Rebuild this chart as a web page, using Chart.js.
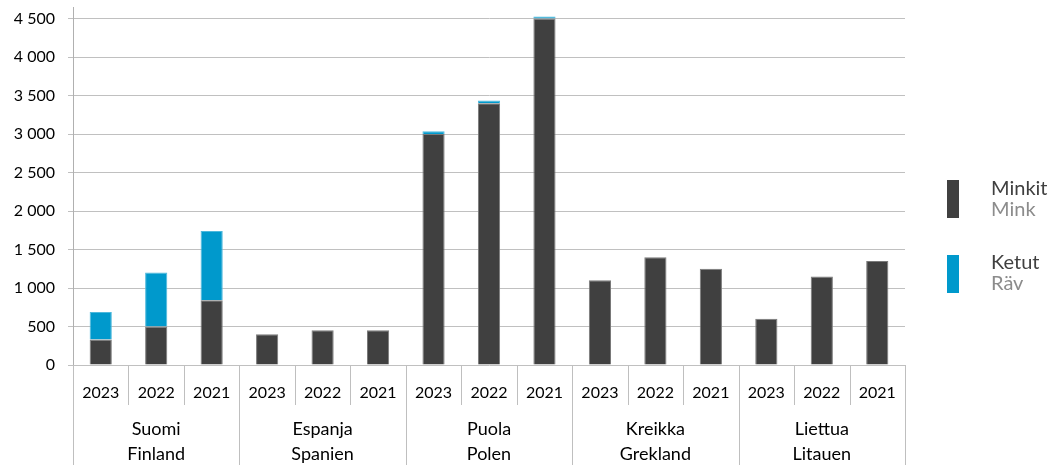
<!DOCTYPE html>
<html>
<head>
<meta charset="utf-8">
<script src="https://cdn.jsdelivr.net/npm/chart.js@4/dist/chart.umd.min.js"></script>
<style>
  body { margin: 0; background: #fff; }
  #wrap { position: relative; width: 1054px; height: 465px; }
  .sw { position: absolute; left: 947px; width: 12px; height: 38px; }
  .lg { position: absolute; left: 991px; font-family: Lato, sans-serif; font-size: 20px; line-height: 21px; }
  .lg .a { color: #404040; }
  .lg .b { color: #8c8c8c; }
</style>
</head>
<body>
<div id="wrap">
  <canvas id="chart" width="1054" height="465"></canvas>
  <div class="sw" style="top:180px; background:#404040"></div>
  <div class="lg" style="top:177px"><div class="a">Minkit</div><div class="b">Mink</div></div>
  <div class="sw" style="top:255px; background:#0099cc"></div>
  <div class="lg" style="top:251px"><div class="a">Ketut</div><div class="b">Räv</div></div>
</div>
<script>
// data
const countries = [['Suomi', 'Finland'], ['Espanja', 'Spanien'], ['Puola', 'Polen'], ['Kreikka', 'Grekland'], ['Liettua', 'Litauen']];
const years = ['2023', '2022', '2021'];
const mink = [330, 500, 840, 400, 450, 450, 3000, 3400, 4500, 1100, 1400, 1250, 600, 1150, 1350];
const fox = [360, 700, 900, 0, 0, 0, 35, 35, 25, 0, 0, 0, 0, 0, 0];
const yTicks = [0, 500, 1000, 1500, 2000, 2500, 3000, 3500, 4000, 4500];

const labels = [];
countries.forEach(() => years.forEach((y) => labels.push(y)));

const fmt = (v) => String(v).replace(/\B(?=(\d{3})+(?!\d))/g, ' ');

// separator lines of the two-level category axis
const separators = {
    id: 'separators',
    afterDraw(chart) {
        const { ctx, chartArea, scales } = chart;
        const x = scales.x;
        ctx.save();
        ctx.strokeStyle = '#bfbfbf';
        ctx.lineWidth = 1;
        for (let i = 0; i <= labels.length; i++) {
            let px;
            if (i === 0) px = chartArea.left;
            else if (i === labels.length) px = chartArea.right;
            else px = (x.getPixelForValue(i - 1) + x.getPixelForValue(i)) / 2;
            px = Math.round(px) + 0.5;
            const bottom = i % years.length === 0 ? chart.height : x.bottom;
            ctx.beginPath();
            ctx.moveTo(px, chartArea.bottom);
            ctx.lineTo(px, bottom);
            ctx.stroke();
        }
        ctx.restore();
    },
};

new Chart(document.getElementById('chart'), {
    type: 'bar',
    data: {
        labels: labels,
        datasets: [
            {
                label: 'Minkit',
                data: mink,
                backgroundColor: '#404040',
                borderColor: '#7a7a7a',
                borderWidth: 1,
                borderSkipped: 'bottom',
            },
            {
                label: 'Ketut',
                data: fox,
                backgroundColor: '#0099cc',
                borderColor: '#4db8dc',
                borderWidth: 1,
                borderSkipped: 'bottom',
            },
        ],
    },
    options: {
        responsive: false,
        animation: false,
        devicePixelRatio: 1,
        layout: { padding: { top: 7, right: 149, left: 0, bottom: 0 } },
        datasets: { bar: { categoryPercentage: 1, barPercentage: 0.4 } },
        plugins: { legend: { display: false }, tooltip: { enabled: false } },
        scales: {
            y: {
                stacked: true,
                min: 0,
                max: 4650,
                afterBuildTicks: (s) => { s.ticks = yTicks.map((v) => ({ value: v })); },
                ticks: {
                    padding: 13,
                    color: '#000',
                    font: { family: 'Lato', size: 16 },
                    callback: (v) => fmt(v),
                },
                afterFit: (s) => { s.width = 73; s.paddingTop = 0; s.paddingBottom = 0; },
                grid: { color: '#c0c0c0', tickLength: 5 },
                border: { color: '#b0b0b0' },
            },
            x: {
                stacked: true,
                weight: 0,
                grid: { display: false, drawTicks: false },
                border: { display: false },
                ticks: {
                    padding: 18,
                    maxRotation: 0,
                    autoSkip: false,
                    color: '#000',
                    font: { family: 'Lato', size: 16 },
                },
                afterFit: (s) => { s.height = 40; },
            },
            x2: {
                type: 'category',
                position: 'bottom',
                labels: countries,
                offset: true,
                weight: 1,
                grid: { display: false, drawTicks: false },
                border: { display: false },
                ticks: {
                    padding: 12,
                    maxRotation: 0,
                    autoSkip: false,
                    color: '#000',
                    font: { family: 'Lato', size: 18, lineHeight: '25px' },
                },
                afterFit: (s) => { s.height = 60; },
            },
        },
    },
    plugins: [separators],
});
</script>
</body>
</html>
